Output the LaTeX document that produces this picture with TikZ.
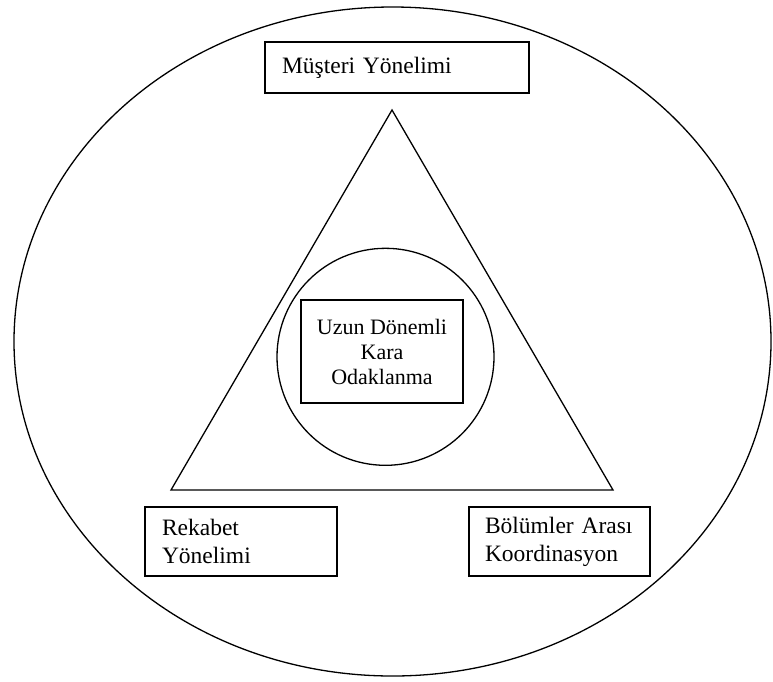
\documentclass[tikz,border=0pt]{standalone}
\usepackage{fontspec}
\setmainfont{Liberation Serif}
\usetikzlibrary{shapes.geometric}
\begin{document}
\begin{tikzpicture}[x=1pt,y=-1pt,
  lbox/.style={draw,line width=1.6pt,rectangle,inner xsep=17pt,inner ysep=0pt,align=left,
    font={\fontsize{23.5}{28}\selectfont}},
  cbox/.style={draw,line width=1.6pt,rectangle,inner sep=0pt,align=center,
    font={\fontsize{22}{25}\selectfont}},
  shape line/.style={draw,line width=1.3pt}]
\useasboundingbox (0,0) rectangle (773,681);
% outer ellipse
\node[ellipse,shape line,minimum width=757pt,minimum height=669pt,inner sep=0pt] (outer) at (392.5,341.5) {};
% triangle
\coordinate (apex) at (392,110);
\coordinate (bl) at (171,490);
\coordinate (br) at (613,490);
\draw[line width=1.3pt,line join=miter] (apex) -- (bl) -- (br) -- cycle;
% inner circle
\node[circle,shape line,minimum size=217pt,inner sep=0pt] (inner) at (385.5,356.8) {};
% boxes
\node[lbox,text width=230pt,minimum height=51pt] (musteri) at (397,67.5)
  {Müşteri Yönelimi};
\node[cbox,minimum width=162pt,minimum height=103pt] (merkez) at (382,351.5)
  {Uzun Dönemli\\Kara\\Odaklanma};
\node[lbox,text width=158pt,minimum height=69pt] (rekabet) at (241,541.5)
  {Rekabet\\Yönelimi};
\node[lbox,inner xsep=16pt,text width=149pt,minimum height=69pt] (bolumler) at (559.5,541.5)
  {Bölümler Arası\\Koordinasyon};
\end{tikzpicture}
\end{document}
